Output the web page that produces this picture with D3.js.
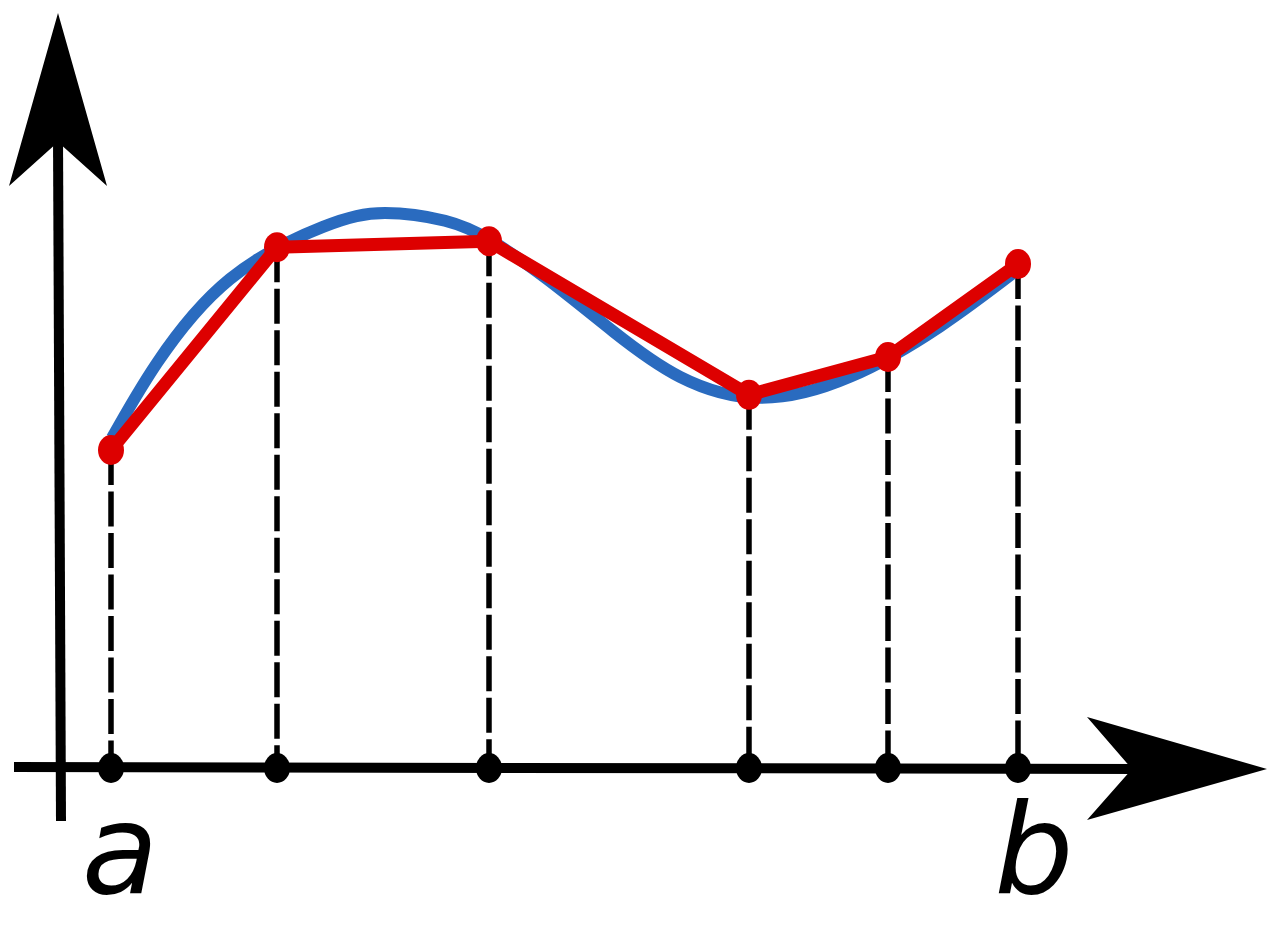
<!DOCTYPE html>
<html lang="en">
<head>
    <meta charset="UTF-8">
    <title>Trapezoid rule</title>
    <script src="https://d3js.org/d3.v7.min.js"></script>
    <style>
        body { margin: 0; background: #fff; }
        .label { font-family: "DejaVu Sans", sans-serif; font-style: italic; font-size: 125px; }
    </style>
</head>
<body>
    <svg id="chart"></svg>
    <script>
        // sample points (x in axis units, y = f(x))
        const nodeX = [0.51, 2.17, 4.29, 6.89, 8.28, 9.58];
        const nodeY = [5.30, 8.68, 8.78, 6.22, 6.85, 8.40];

        // the smooth function f
        const curveX = [0.52, 0.97, 1.70, 2.63, 3.25, 3.85, 4.30, 4.87, 5.53, 6.20, 7.00, 7.90, 8.80, 9.57];
        const curveY = [5.50, 6.75, 8.15, 9.02, 9.25, 9.12, 8.80, 8.15, 7.28, 6.52, 6.17, 6.52, 7.36, 8.30];

        const endLabels = ["a", "b"];

        const width = 1280, height = 933;
        const blue = "#2a6bbf", red = "#dd0000";

        const svg = d3.select("#chart").attr("width", width).attr("height", height);

        const x = d3.scaleLinear().domain([0, 10]).range([60, 1060]);
        const y = d3.scaleLinear().domain([0, 10]).range([768, 168]);

        const nodes = nodeX.map((d, i) => ({x: d, y: nodeY[i]}));
        const curve = curveX.map((d, i) => ({x: d, y: curveY[i]}));

        // dashed verticals
        svg.append("g").selectAll("line")
            .data(nodes)
            .join("line")
            .attr("x1", d => x(d.x)).attr("x2", d => x(d.x))
            .attr("y1", d => y(d.y)).attr("y2", y(0))
            .attr("stroke", "#000")
            .attr("stroke-width", 5.5)
            .attr("stroke-dasharray", "35,6.5");

        // axes
        const axes = svg.append("g");
        axes.append("line")
            .attr("x1", 14).attr("y1", y(0) - 1)
            .attr("x2", 1140).attr("y2", y(0) + 1)
            .attr("stroke", "#000").attr("stroke-width", 10);
        axes.append("path")
            .attr("d", "M1267,769 L1087,717 L1132,769 L1087,820 Z")
            .attr("fill", "#000");
        axes.append("line")
            .attr("x1", x(0) + 1).attr("y1", 821)
            .attr("x2", x(0) - 2).attr("y2", 135)
            .attr("stroke", "#000").attr("stroke-width", 10);
        axes.append("path")
            .attr("d", "M58,13 L107,186 L58,142 L9,186 Z")
            .attr("fill", "#000");

        // f(x)
        svg.append("path")
            .datum(curve)
            .attr("fill", "none")
            .attr("stroke", blue)
            .attr("stroke-width", 12)
            .attr("d", d3.line().x(d => x(d.x)).y(d => y(d.y)).curve(d3.curveNatural));

        // trapezoid tops
        svg.append("path")
            .datum(nodes)
            .attr("fill", "none")
            .attr("stroke", red)
            .attr("stroke-width", 13)
            .attr("stroke-linejoin", "round")
            .attr("d", d3.line().x(d => x(d.x)).y(d => y(d.y)));

        svg.append("g").selectAll("ellipse")
            .data(nodes)
            .join("ellipse")
            .attr("cx", d => x(d.x)).attr("cy", d => y(d.y))
            .attr("rx", 13).attr("ry", 15)
            .attr("fill", red);

        svg.append("g").selectAll("ellipse")
            .data(nodes)
            .join("ellipse")
            .attr("cx", d => x(d.x)).attr("cy", y(0))
            .attr("rx", 13).attr("ry", 15)
            .attr("fill", "#000");

        // a and b under the first and last nodes
        const ends = [nodes[0], nodes[nodes.length - 1]];
        svg.append("g").selectAll("text")
            .data(endLabels)
            .join("text")
            .attr("class", "label")
            .attr("x", (d, i) => x(ends[i].x) + (i === 0 ? 9 : 16))
            .attr("y", 893)
            .attr("text-anchor", "middle")
            .text(d => d);
    </script>
</body>
</html>
